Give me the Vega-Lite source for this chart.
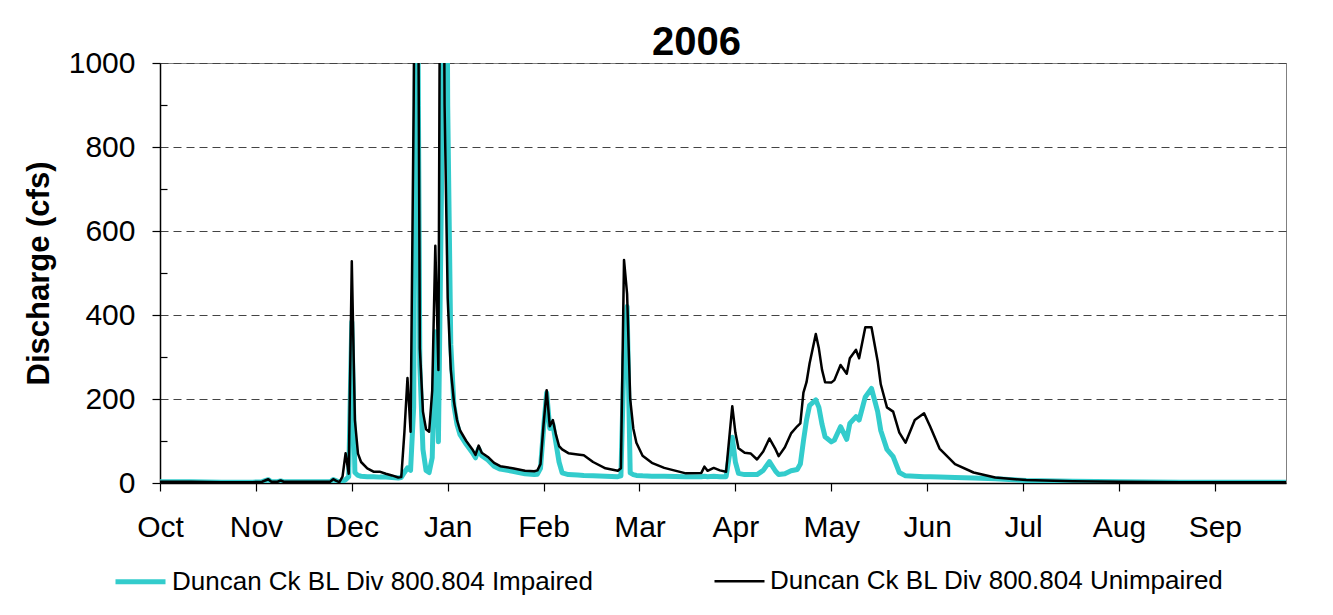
{
  "$schema": "https://vega.github.io/schema/vega-lite/v6.json",
  "width": 1126,
  "height": 420,
  "autosize": {"type": "none"},
  "padding": {"left": 160, "top": 63, "right": 47, "bottom": 132},
  "background": "white",
  "config": {
    "font": "Liberation Sans",
    "view": {"stroke": "#808080", "strokeWidth": 1}
  },
  "data": {
    "values": [
      {"date": "2005-10-01", "impaired": 3, "unimpaired": 3},
      {"date": "2005-10-11", "impaired": 3, "unimpaired": 3},
      {"date": "2005-10-21", "impaired": 2, "unimpaired": 2},
      {"date": "2005-10-31", "impaired": 2, "unimpaired": 2},
      {"date": "2005-11-03", "impaired": 3, "unimpaired": 3},
      {"date": "2005-11-05", "impaired": 8, "unimpaired": 9},
      {"date": "2005-11-06", "impaired": 3, "unimpaired": 3},
      {"date": "2005-11-08", "impaired": 3, "unimpaired": 3},
      {"date": "2005-11-09", "impaired": 5, "unimpaired": 6},
      {"date": "2005-11-10", "impaired": 3, "unimpaired": 3},
      {"date": "2005-11-20", "impaired": 3, "unimpaired": 3},
      {"date": "2005-11-25", "impaired": 3, "unimpaired": 3},
      {"date": "2005-11-26", "impaired": 8, "unimpaired": 9},
      {"date": "2005-11-27", "impaired": 5, "unimpaired": 5},
      {"date": "2005-11-28", "impaired": 2, "unimpaired": 2},
      {"date": "2005-11-29", "impaired": 3, "unimpaired": 15},
      {"date": "2005-11-30", "impaired": 8, "unimpaired": 71},
      {"date": "2005-12-01", "impaired": 15, "unimpaired": 22},
      {"date": "2005-12-02", "impaired": 384, "unimpaired": 528},
      {"date": "2005-12-03", "impaired": 25, "unimpaired": 150},
      {"date": "2005-12-04", "impaired": 18, "unimpaired": 70},
      {"date": "2005-12-05", "impaired": 16, "unimpaired": 50},
      {"date": "2005-12-07", "impaired": 15, "unimpaired": 35},
      {"date": "2005-12-09", "impaired": 15, "unimpaired": 27},
      {"date": "2005-12-11", "impaired": 14, "unimpaired": 27},
      {"date": "2005-12-13", "impaired": 14, "unimpaired": 22},
      {"date": "2005-12-15", "impaired": 13, "unimpaired": 18},
      {"date": "2005-12-17", "impaired": 12, "unimpaired": 13},
      {"date": "2005-12-18", "impaired": 13, "unimpaired": 14},
      {"date": "2005-12-19", "impaired": 25, "unimpaired": 120},
      {"date": "2005-12-20", "impaired": 36, "unimpaired": 250},
      {"date": "2005-12-21", "impaired": 30, "unimpaired": 122},
      {"date": "2005-12-22", "impaired": 180, "unimpaired": 900},
      {"date": "2005-12-23", "impaired": 1600, "unimpaired": 2000},
      {"date": "2005-12-24", "impaired": 280, "unimpaired": 320},
      {"date": "2005-12-25", "impaired": 80, "unimpaired": 170},
      {"date": "2005-12-26", "impaired": 30, "unimpaired": 128},
      {"date": "2005-12-27", "impaired": 25, "unimpaired": 122},
      {"date": "2005-12-28", "impaired": 60, "unimpaired": 220},
      {"date": "2005-12-29", "impaired": 360, "unimpaired": 565},
      {"date": "2005-12-30", "impaired": 98, "unimpaired": 269},
      {"date": "2005-12-31", "impaired": 700, "unimpaired": 2200},
      {"date": "2006-01-01", "impaired": 2500, "unimpaired": 900},
      {"date": "2006-01-02", "impaired": 900, "unimpaired": 440},
      {"date": "2006-01-03", "impaired": 330, "unimpaired": 270},
      {"date": "2006-01-04", "impaired": 185, "unimpaired": 195},
      {"date": "2006-01-05", "impaired": 140, "unimpaired": 150},
      {"date": "2006-01-06", "impaired": 115, "unimpaired": 125},
      {"date": "2006-01-08", "impaired": 92, "unimpaired": 100},
      {"date": "2006-01-10", "impaired": 72, "unimpaired": 80},
      {"date": "2006-01-11", "impaired": 60, "unimpaired": 67},
      {"date": "2006-01-12", "impaired": 82, "unimpaired": 89},
      {"date": "2006-01-13", "impaired": 65, "unimpaired": 72},
      {"date": "2006-01-15", "impaired": 55, "unimpaired": 62},
      {"date": "2006-01-17", "impaired": 40, "unimpaired": 48},
      {"date": "2006-01-19", "impaired": 33, "unimpaired": 40},
      {"date": "2006-01-23", "impaired": 28, "unimpaired": 35},
      {"date": "2006-01-27", "impaired": 22, "unimpaired": 29},
      {"date": "2006-01-30", "impaired": 20, "unimpaired": 28},
      {"date": "2006-01-31", "impaired": 21, "unimpaired": 30},
      {"date": "2006-02-01", "impaired": 35, "unimpaired": 45},
      {"date": "2006-02-02", "impaired": 130, "unimpaired": 140},
      {"date": "2006-02-03", "impaired": 215, "unimpaired": 221},
      {"date": "2006-02-04", "impaired": 130, "unimpaired": 135},
      {"date": "2006-02-05", "impaired": 140, "unimpaired": 150},
      {"date": "2006-02-06", "impaired": 95, "unimpaired": 115},
      {"date": "2006-02-07", "impaired": 50, "unimpaired": 88},
      {"date": "2006-02-08", "impaired": 24, "unimpaired": 80},
      {"date": "2006-02-10", "impaired": 20, "unimpaired": 71},
      {"date": "2006-02-13", "impaired": 19, "unimpaired": 68},
      {"date": "2006-02-15", "impaired": 18, "unimpaired": 66},
      {"date": "2006-02-18", "impaired": 17, "unimpaired": 50},
      {"date": "2006-02-22", "impaired": 16, "unimpaired": 35},
      {"date": "2006-02-26", "impaired": 15, "unimpaired": 29},
      {"date": "2006-02-27", "impaired": 17, "unimpaired": 35},
      {"date": "2006-02-28", "impaired": 300, "unimpaired": 531},
      {"date": "2006-03-01", "impaired": 420, "unimpaired": 450},
      {"date": "2006-03-02", "impaired": 24, "unimpaired": 200},
      {"date": "2006-03-03", "impaired": 20, "unimpaired": 130},
      {"date": "2006-03-04", "impaired": 18, "unimpaired": 96},
      {"date": "2006-03-06", "impaired": 17, "unimpaired": 65},
      {"date": "2006-03-09", "impaired": 16, "unimpaired": 48},
      {"date": "2006-03-13", "impaired": 16, "unimpaired": 36},
      {"date": "2006-03-20", "impaired": 15, "unimpaired": 23},
      {"date": "2006-03-25", "impaired": 15, "unimpaired": 24},
      {"date": "2006-03-26", "impaired": 16, "unimpaired": 39},
      {"date": "2006-03-27", "impaired": 15, "unimpaired": 29},
      {"date": "2006-03-29", "impaired": 16, "unimpaired": 36},
      {"date": "2006-03-31", "impaired": 15, "unimpaired": 30},
      {"date": "2006-04-02", "impaired": 15, "unimpaired": 27},
      {"date": "2006-04-04", "impaired": 109, "unimpaired": 183},
      {"date": "2006-04-05", "impaired": 50, "unimpaired": 120},
      {"date": "2006-04-06", "impaired": 23, "unimpaired": 83},
      {"date": "2006-04-08", "impaired": 20, "unimpaired": 72},
      {"date": "2006-04-10", "impaired": 20, "unimpaired": 70},
      {"date": "2006-04-12", "impaired": 20, "unimpaired": 56},
      {"date": "2006-04-14", "impaired": 30, "unimpaired": 75},
      {"date": "2006-04-16", "impaired": 51, "unimpaired": 106},
      {"date": "2006-04-18", "impaired": 28, "unimpaired": 80},
      {"date": "2006-04-19", "impaired": 20, "unimpaired": 64},
      {"date": "2006-04-21", "impaired": 22, "unimpaired": 85},
      {"date": "2006-04-23", "impaired": 29, "unimpaired": 118},
      {"date": "2006-04-25", "impaired": 32, "unimpaired": 135},
      {"date": "2006-04-26", "impaired": 45, "unimpaired": 142},
      {"date": "2006-04-27", "impaired": 100, "unimpaired": 215},
      {"date": "2006-04-28", "impaired": 150, "unimpaired": 240},
      {"date": "2006-04-29", "impaired": 185, "unimpaired": 285},
      {"date": "2006-05-01", "impaired": 198, "unimpaired": 355},
      {"date": "2006-05-02", "impaired": 180, "unimpaired": 320},
      {"date": "2006-05-03", "impaired": 140, "unimpaired": 270},
      {"date": "2006-05-04", "impaired": 110, "unimpaired": 240},
      {"date": "2006-05-06", "impaired": 98, "unimpaired": 239},
      {"date": "2006-05-07", "impaired": 102, "unimpaired": 245},
      {"date": "2006-05-09", "impaired": 134, "unimpaired": 281},
      {"date": "2006-05-11", "impaired": 104, "unimpaired": 260},
      {"date": "2006-05-12", "impaired": 142, "unimpaired": 297},
      {"date": "2006-05-14", "impaired": 158, "unimpaired": 317},
      {"date": "2006-05-15", "impaired": 150, "unimpaired": 297},
      {"date": "2006-05-17", "impaired": 205, "unimpaired": 371},
      {"date": "2006-05-19", "impaired": 225, "unimpaired": 371},
      {"date": "2006-05-21", "impaired": 170, "unimpaired": 290},
      {"date": "2006-05-22", "impaired": 125, "unimpaired": 235},
      {"date": "2006-05-24", "impaired": 80, "unimpaired": 180},
      {"date": "2006-05-26", "impaired": 63, "unimpaired": 170},
      {"date": "2006-05-28", "impaired": 25, "unimpaired": 120},
      {"date": "2006-05-30", "impaired": 17, "unimpaired": 96},
      {"date": "2006-06-02", "impaired": 16, "unimpaired": 150},
      {"date": "2006-06-05", "impaired": 15, "unimpaired": 166},
      {"date": "2006-06-07", "impaired": 15, "unimpaired": 134},
      {"date": "2006-06-10", "impaired": 14, "unimpaired": 82},
      {"date": "2006-06-15", "impaired": 13, "unimpaired": 45},
      {"date": "2006-06-21", "impaired": 12, "unimpaired": 25},
      {"date": "2006-06-28", "impaired": 10, "unimpaired": 13},
      {"date": "2006-07-08", "impaired": 6, "unimpaired": 7},
      {"date": "2006-07-23", "impaired": 4, "unimpaired": 4},
      {"date": "2006-08-07", "impaired": 3, "unimpaired": 3},
      {"date": "2006-08-27", "impaired": 2, "unimpaired": 2},
      {"date": "2006-09-30", "impaired": 2, "unimpaired": 2}
    ]
  },
  "transform": [{"fold": ["impaired", "unimpaired"], "as": ["series", "flow"]}],
  "layer": [
    {
      "mark": {"type": "line", "clip": true, "strokeJoin": "round", "strokeCap": "round"},
      "encoding": {
        "x": {
          "field": "date",
          "type": "temporal",
          "scale": {
            "type": "utc",
            "domain": [
              {"year": 2005, "month": 10, "date": 1, "utc": true},
              {"year": 2006, "month": 9, "date": 30, "utc": true}
            ]
          },
          "axis": {
            "orient": "bottom",
            "values": [
              {"year": 2005, "month": 10, "date": 1, "utc": true},
              {"year": 2005, "month": 11, "date": 1, "utc": true},
              {"year": 2005, "month": 12, "date": 2, "utc": true},
              {"year": 2006, "month": 1, "date": 2, "utc": true},
              {"year": 2006, "month": 2, "date": 2, "utc": true},
              {"year": 2006, "month": 3, "date": 5, "utc": true},
              {"year": 2006, "month": 4, "date": 5, "utc": true},
              {"year": 2006, "month": 5, "date": 6, "utc": true},
              {"year": 2006, "month": 6, "date": 6, "utc": true},
              {"year": 2006, "month": 7, "date": 7, "utc": true},
              {"year": 2006, "month": 8, "date": 7, "utc": true},
              {"year": 2006, "month": 9, "date": 7, "utc": true}
            ],
            "format": "%b",
            "title": null,
            "grid": false,
            "labelFont": "Liberation Sans",
            "labelFontSize": 30,
            "labelColor": "black",
            "labelAngle": 0,
            "labelFlush": false,
            "labelOverlap": false,
            "labelPadding": 21,
            "tickSize": 8,
            "tickColor": "black",
            "tickWidth": 1.2,
            "domainColor": "black",
            "domainWidth": 1.5
          }
        },
        "y": {
          "field": "flow",
          "type": "quantitative",
          "scale": {"domain": [0, 1000], "nice": false},
          "axis": {
            "values": [0, 100, 200, 300, 400, 500, 600, 700, 800, 900, 1000],
            "labelExpr": "datum.value % 200 === 0 ? '' + datum.value : ''",
            "title": "Discharge (cfs)",
            "titleFont": "Liberation Sans",
            "titleFontSize": 31,
            "titleFontWeight": "bold",
            "titleColor": "black",
            "titlePadding": 13,
            "labelFont": "Liberation Sans",
            "labelFontSize": 30,
            "labelColor": "black",
            "labelPadding": 17,
            "tickSize": {"condition": {"test": "datum.value % 200 === 0", "value": 8}, "value": -7},
            "tickColor": "black",
            "tickWidth": 1.2,
            "domainColor": "black",
            "domainWidth": 1.5,
            "grid": true,
            "gridColor": "#444444",
            "gridDash": [8, 5],
            "gridWidth": 1.2,
            "gridOpacity": {"condition": {"test": "datum.value % 200 === 0 && datum.value > 0", "value": 1}, "value": 0}
          }
        },
        "color": {
          "field": "series",
          "type": "nominal",
          "scale": {"domain": ["impaired", "unimpaired"], "range": ["#33CCCC", "#000000"]},
          "legend": {
            "orient": "none",
            "legendX": -47,
            "legendY": 491,
            "direction": "horizontal",
            "title": null,
            "padding": 0,
            "labelFont": "Liberation Sans",
            "labelFontSize": 26,
            "labelColor": "black",
            "labelLimit": 1000,
            "labelOffset": 4,
            "symbolType": "stroke",
            "symbolSize": 2500,
            "columnPadding": 114,
            "labelExpr": "datum.label == 'impaired' ? 'Duncan Ck BL Div 800.804 Impaired' : 'Duncan Ck BL Div 800.804 Unimpaired'"
          }
        },
        "strokeWidth": {
          "field": "series",
          "type": "ordinal",
          "scale": {"domain": ["impaired", "unimpaired"], "range": [5, 2.5]},
          "legend": {
            "orient": "none",
            "legendX": -47,
            "legendY": 491,
            "direction": "horizontal",
            "title": null,
            "padding": 0,
            "labelFont": "Liberation Sans",
            "labelFontSize": 26,
            "labelColor": "black",
            "labelLimit": 1000,
            "labelOffset": 4,
            "symbolType": "stroke",
            "symbolSize": 2500,
            "columnPadding": 114,
            "labelExpr": "datum.label == 'impaired' ? 'Duncan Ck BL Div 800.804 Impaired' : 'Duncan Ck BL Div 800.804 Unimpaired'"
          }
        }
      }
    },
    {
      "mark": {"type": "point", "opacity": 0},
      "encoding": {
        "x": {
          "field": "date",
          "type": "temporal",
          "scale": {
            "type": "utc",
            "domain": [
              {"year": 2005, "month": 10, "date": 1, "utc": true},
              {"year": 2006, "month": 9, "date": 30, "utc": true}
            ]
          },
          "axis": {
            "orient": "top",
            "labels": false,
            "ticks": false,
            "domain": false,
            "grid": false,
            "title": "2006",
            "titleFont": "Liberation Sans",
            "titleFontSize": 40,
            "titleFontWeight": "bold",
            "titleColor": "black",
            "titleX": 536,
            "titleY": -9,
            "titleAlign": "center",
            "titleBaseline": "alphabetic",
            "titleAngle": 0
          }
        }
      }
    }
  ],
  "resolve": {"axis": {"x": "independent"}}
}
